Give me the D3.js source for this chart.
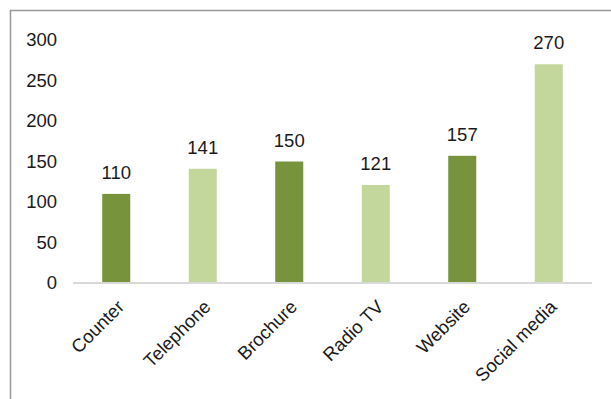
<!DOCTYPE html>
<html>
<head>
<meta charset="utf-8">
<script src="https://cdn.jsdelivr.net/npm/d3@7"></script>
<style>
  html, body { margin: 0; padding: 0; background: #fff; }
  svg { display: block; }
  text { font-family: "Liberation Sans", Arial, sans-serif; }
</style>
</head>
<body>
<svg id="chart" width="611" height="399"></svg>
<script>
// Channel counts
const categories = ["Counter", "Telephone", "Brochure", "Radio TV", "Website", "Social media"];
const values = [110, 141, 150, 121, 157, 270];
const yTicks = [0, 50, 100, 150, 200, 250, 300];
const barColors = ["#77933C", "#C3D69B"];

const svg = d3.select("#chart");
const W = 611, H = 399;
const fontSize = "18.5px";

// Chart area frame (extends past the right and bottom edges)
svg.append("rect")
  .attr("x", 10.5).attr("y", 10.5)
  .attr("width", W + 20).attr("height", H + 20)
  .attr("fill", "#fff")
  .attr("stroke", "#999")
  .attr("stroke-width", 1.5);

const plot = { left: 73, right: 592, top: 40, bottom: 283 };

const x = d3.scaleBand()
  .domain(categories)
  .range([plot.left, plot.right])
  .paddingInner(0.676)
  .paddingOuter(0.338);

const y = d3.scaleLinear()
  .domain([0, 300])
  .range([plot.bottom, plot.top]);

// Y axis labels, no line or ticks
const yAxis = svg.append("g")
  .attr("transform", `translate(${plot.left},0)`)
  .call(d3.axisLeft(y).tickValues(yTicks).tickSize(0).tickPadding(16).tickFormat(d3.format("d")));
yAxis.select(".domain").remove();
yAxis.selectAll("text")
  .attr("font-size", fontSize)
  .attr("fill", "#1a1a1a")
  .attr("font-family", "Liberation Sans, Arial, sans-serif");

// Bars
svg.append("g").selectAll("rect")
  .data(values)
  .join("rect")
  .attr("x", (d, i) => x(categories[i]))
  .attr("y", d => y(d))
  .attr("width", x.bandwidth())
  .attr("height", d => y(0) - y(d))
  .attr("fill", (d, i) => barColors[i % 2]);

// Baseline
svg.append("line")
  .attr("x1", plot.left).attr("x2", plot.right)
  .attr("y1", y(0)).attr("y2", y(0))
  .attr("stroke", "#D9D9D9")
  .attr("stroke-width", 2);

// Value labels above bars
svg.append("g").selectAll("text")
  .data(values)
  .join("text")
  .attr("x", (d, i) => x(categories[i]) + x.bandwidth() / 2)
  .attr("y", d => y(d) - 15)
  .attr("text-anchor", "middle")
  .attr("font-size", fontSize)
  .attr("fill", "#1a1a1a")
  .text(d => d);

// Rotated category labels
svg.append("g").selectAll("text")
  .data(categories)
  .join("text")
  .attr("transform", d => `translate(${x(d) + x.bandwidth() / 2 + 9},${plot.bottom + 25}) rotate(-45)`)
  .attr("text-anchor", "end")
  .attr("font-size", fontSize)
  .attr("fill", "#1a1a1a")
  .text(d => d);
</script>
</body>
</html>
